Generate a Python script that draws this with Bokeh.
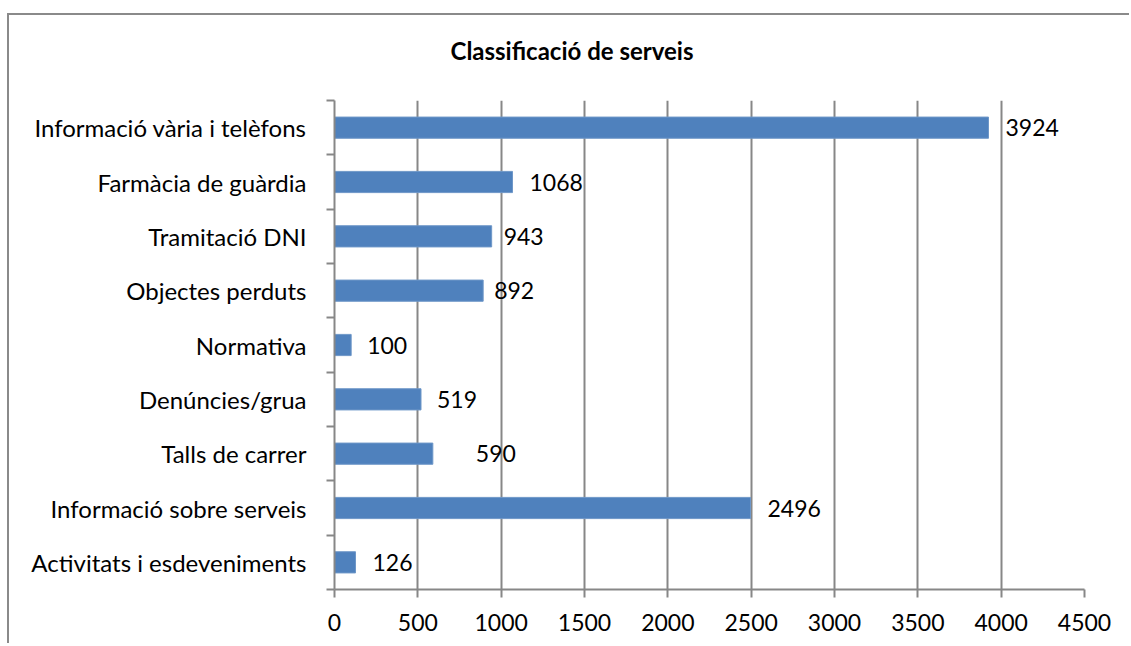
from bokeh.plotting import figure
from bokeh.models import Range1d, FixedTicker, ColumnDataSource, Title
from bokeh.embed import file_html
from bokeh.resources import INLINE
from bokeh.core.properties import value

# Data (top to bottom as shown)
categories = [
    "Informació vària i telèfons",
    "Farmàcia de guàrdia",
    "Tramitació DNI",
    "Objectes perduts",
    "Normativa",
    "Denúncies/grua",
    "Talls de carrer",
    "Informació sobre serveis",
    "Activitats i esdeveniments",
]
counts = [3924, 1068, 943, 892, 100, 519, 590, 2496, 126]
x_ticks = [0, 500, 1000, 1500, 2000, 2500, 3000, 3500, 4000, 4500]
title_text = "Classificació de serveis"

# label pixel offsets from bar ends (style)
label_dx = [17, 17, 12, 11, 16, 16, 43, 17, 17]

n = len(categories)
ypos = [n - 1 - i for i in range(n)]

src = ColumnDataSource(dict(
    y=ypos, v=counts, lab=[str(c) for c in counts], dx=label_dx,
))

FONT = "Lato"
FS = "23px"
GRID = "#878787"

p = figure(
    width=1122, height=630,
    x_range=Range1d(x_ticks[0], x_ticks[-1]),
    y_range=Range1d(-0.5, n - 0.5),
    output_backend="svg", toolbar_location=None,
    min_border_left=325, min_border_right=47,
    min_border_top=85, min_border_bottom=56,
)
p.styles = {"margin-top": "13px", "margin-left": "7px",
            "border-left": "2px solid #8a8a8a",
            "border-top": "2px solid #8a8a8a"}
p.outline_line_color = None

p.hbar(y="y", right="v", left=0, height=0.39, source=src,
       fill_color="#4F81BD", line_color="#6E97C8", line_width=1)

p.text(x="v", y="y", text="lab", x_offset="dx", source=src,
       text_font=value(FONT), text_font_size=FS, text_color="#000000",
       text_baseline="middle", text_align="left")

# x axis
p.xaxis.ticker = FixedTicker(ticks=x_ticks)
p.xaxis.axis_line_color = GRID
p.xaxis.axis_line_width = 2
p.xaxis.major_tick_line_color = GRID
p.xaxis.major_tick_line_width = 2
p.xaxis.major_tick_out = 8
p.xaxis.major_tick_in = 0
p.xaxis.minor_tick_line_color = None
p.xaxis.major_label_text_font = FONT
p.xaxis.major_label_text_font_size = FS
p.xaxis.major_label_text_color = "#000000"
p.xaxis.major_label_standoff = 16

# y axis
p.yaxis.ticker = FixedTicker(ticks=ypos, minor_ticks=[k - 0.5 for k in range(n + 1)])
p.yaxis.major_label_overrides = {yv: c for yv, c in zip(ypos, categories)}
p.yaxis.axis_line_color = GRID
p.yaxis.axis_line_width = 2
p.yaxis.major_tick_line_color = None
p.yaxis.major_tick_out = 0
p.yaxis.major_tick_in = 0
p.yaxis.minor_tick_line_color = GRID
p.yaxis.minor_tick_line_width = 2
p.yaxis.minor_tick_out = 8
p.yaxis.minor_tick_in = 0
p.yaxis.major_label_text_font = FONT
p.yaxis.major_label_text_font_size = "24px"
p.yaxis.major_label_text_color = "#000000"
p.yaxis.major_label_standoff = 20

p.xgrid.grid_line_color = GRID
p.xgrid.grid_line_width = 2
p.ygrid.grid_line_color = None

# spacer between frame and title (closest to frame)
p.add_layout(Title(text=" ", standoff=0, text_font=FONT,
                   text_font_size="10px"), "above")
p.add_layout(Title(text=title_text, align="left", offset=116, standoff=40,
                   vertical_align="top",
                   text_font=FONT, text_font_style="bold",
                   text_font_size="24px", text_color="#000000"), "above")

open("out.html", "w").write(file_html(p, INLINE))
